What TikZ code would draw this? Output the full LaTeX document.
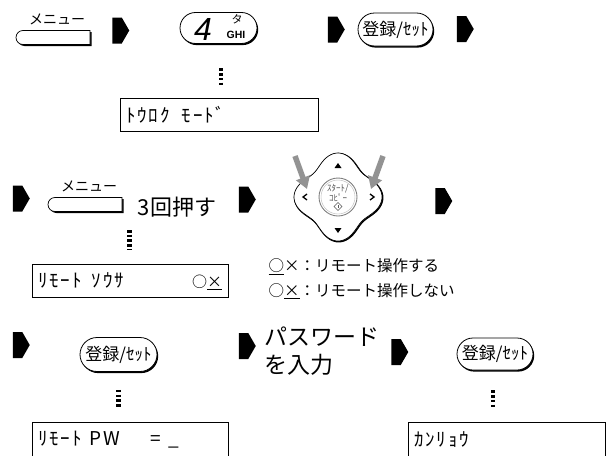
\documentclass[tikz,border=0pt]{standalone}
\usepackage{fontspec}
\setmainfont{Noto Sans CJK JP}
\newfontfamily\keyfont{Liberation Sans}
\usetikzlibrary{arrows.meta,positioning,calc,shapes.arrows,shapes.misc,shadows}
\newcommand{\pxsize}[1]{\fontsize{#1}{#1}\selectfont}
\tikzset{
  stepar/.style={single arrow, fill=black, inner sep=0pt,
                 minimum height=17pt, minimum width=26pt,
                 single arrow head extend=0pt, single arrow tip angle=120},
  keybtn/.style={rounded rectangle, draw, line width=0.8pt, fill=white,
                 inner sep=0pt, font=\pxsize{17},
                 general shadow={fill=black, shadow xshift=1.2pt, shadow yshift=-1.6pt}},
  lcdbox/.style={draw, line width=0.8pt, text width=#1, align=left,
                 inner xsep=6pt, minimum height=33pt,
                 font=\pxsize{19}\addfontfeature{LetterSpace=10}},
  lcddots/.style={line width=4.5pt, dash pattern=on 2.5pt off 2.2pt},
  pushar/.style={line width=5.5pt, draw=gray!85, -{Triangle[width=14pt,length=12pt]}},
  menubtn/.pic={
    \fill[black] (38.5,-5.5) -- (-28.5,-5.5) arc[start angle=270,end angle=90,radius=7]
                 -- (38.5,8.5) -- cycle;
    \draw[line width=0.7pt, fill=white] (37,-7) -- (-30,-7) arc[start angle=270,end angle=90,radius=7]
                 -- (37,7) -- cycle;
    \node[font=\pxsize{14}] (-label) at (4,-18) {メニュー};
  },
}

\begin{document}
\begin{tikzpicture}[x=1pt, y=-1pt]
\useasboundingbox (0,0) rectangle (607,455);
\clip (0,0) rectangle (607,455);

% first row
\pic (mb1) at (53,37.5) {menubtn};
\node[stepar] (a1) at (117,30.5) {};
\node[keybtn, minimum width=77pt, minimum height=31pt] (k4) at (218.5,28) {};
\node[font=\keyfont\itshape\pxsize{32}, inner sep=0pt] (k4num) at (203,29) {4};
\node[font=\pxsize{11}, inner sep=0pt] (k4kana) at (237,19.5) {タ};
\node[font=\keyfont\bfseries\pxsize{10.5}, inner sep=0pt] (k4abc) at (236,35) {GHI};
\node[stepar] (a2) at (332.5,29.5) {};
\node[keybtn, minimum width=75pt, minimum height=33pt] (set1) at (395.5,29.5) {登録/ｾｯﾄ};
\node[stepar] (a3) at (461.5,29) {};
\draw[lcddots] (k4.south) ++(2.5,24.5) -- ++(0,17);
\node[lcdbox=186pt, minimum width=198pt] (lcd1) at (219,114.5) {ﾄｳﾛｸ\hspace{12pt}ﾓｰﾄﾞ};

% second row
\node[stepar] (a4) at (17.5,198.5) {};
\pic (mb2) at (85,204.5) {menubtn};
\node[font=\pxsize{22}] (times) at (177,207) {3回押す};
\node[stepar] (a5) at (243.5,199.5) {};

% cursor pad
\begin{scope}[shift={(338,197)}]
  \draw[line width=1.5pt] plot[variable=\t, domain=0:360, samples=121]
        ({(39+5*cos(4*\t))*cos(\t)+0.7}, {(39+5*cos(4*\t))*sin(\t)+0.7}) -- cycle;
  \draw[line width=0.7pt, fill=white] plot[variable=\t, domain=0:360, samples=121]
        ({(39+5*cos(4*\t))*cos(\t)}, {(39+5*cos(4*\t))*sin(\t)}) -- cycle;
  \draw[gray, line width=0.9pt] (0,0) circle[radius=19];
  \draw[gray!55, line width=0.4pt] (0,0) circle[radius=17];
  \node[font=\pxsize{9}, text=gray!70!black] (padstart) at (0,-8) {ｽﾀｰﾄ/};
  \node[font=\pxsize{9}, text=gray!70!black] (padcopy) at (0,1) {ｺﾋﾟｰ};
  \draw[gray!70!black, line width=0.5pt] (0,5.5) -- (4,9.5) -- (0,13.5) -- (-4,9.5) -- cycle;
  \draw[gray!70!black, line width=0.5pt] (0,8) -- (0,11);
  \fill (0,-34) -- (3.5,-29) -- (-3.5,-29) -- cycle;
  \fill (0,36) -- (3.5,31) -- (-3.5,31) -- cycle;
  \draw[line width=1.3pt] (-31,-3) -- (-35,0) -- (-31,3);
  \draw[line width=1.3pt] (32,-3) -- (36,0) -- (32,3);
\end{scope}
\coordinate (pushl0) at (295,156);
\coordinate (pushl1) at (307,189);
\coordinate (pushr0) at (383,156);
\coordinate (pushr1) at (371,189);
\draw[pushar] (pushl0) -- (pushl1);
\draw[pushar] (pushr0) -- (pushr1);

\node[stepar] (a6) at (440,201) {};
\draw[lcddots] (129.5,230) -- (129.5,249);
\node[lcdbox=184pt, minimum width=196pt] (lcd2) at (130,281)
      {ﾘﾓｰﾄ\hspace{10pt}ｿｳｻ\hfill{\addfontfeature{LetterSpace=0}\pxsize{15}○\underline{×}}};
\node[font=\pxsize{15.5}, anchor=west] (opt1) at (265,267) {\underline{○}×：リモート操作する};
\node[font=\pxsize{15.5}, anchor=west] (opt2) at (265,291) {○\underline{×}：リモート操作しない};

% third row
\node[stepar] (a7) at (17.5,345) {};
\node[keybtn, minimum width=77pt, minimum height=34pt] (set2) at (118.5,354.5) {登録/ｾｯﾄ};
\node[stepar] (a8) at (243.5,346) {};
\node[font=\fontsize{23}{28}\selectfont, anchor=west, align=left] (pwin) at (261,351) {パスワード\\を入力};
\node[stepar] (a9) at (396,352) {};
\node[keybtn, minimum width=76pt, minimum height=32pt] (set3) at (495,354) {登録/ｾｯﾄ};
\draw[lcddots] (set2.south) ++(0,18) -- ++(0,17);
\draw[lcddots] (set3.south) ++(-2,20) -- ++(0,17);
\node[lcdbox=184pt, minimum width=196pt, minimum height=36pt] (lcd3) at (130,440)
      {ﾘﾓｰﾄ\hspace{8pt}PW\hspace{30pt}=\hspace{8pt}\_};
\node[lcdbox=185pt, minimum width=197pt, minimum height=36pt] (lcd4) at (506.5,440) {ｶﾝﾘｮｳ};
\end{tikzpicture}
\end{document}
